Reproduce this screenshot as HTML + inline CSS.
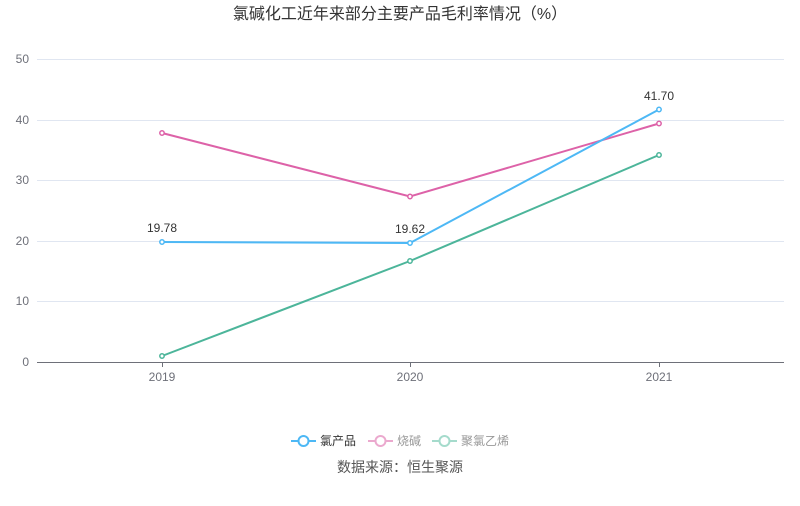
<!DOCTYPE html>
<html><head><meta charset="utf-8"><style>
body{margin:0;background:#fff;}
svg text{font-family:"Liberation Sans","Noto Sans CJK SC",sans-serif;}
</style></head><body>
<svg width="800" height="501" viewBox="0 0 800 501" xmlns="http://www.w3.org/2000/svg">
<text x="400" y="19" text-anchor="middle" font-size="16" fill="#333">氯碱化工近年来部分主要产品毛利率情况（%）</text>
<g stroke="#e0e6f1" stroke-width="1">
<line x1="37" y1="59.5" x2="784" y2="59.5"/>
<line x1="37" y1="120.5" x2="784" y2="120.5"/>
<line x1="37" y1="180.5" x2="784" y2="180.5"/>
<line x1="37" y1="241.5" x2="784" y2="241.5"/>
<line x1="37" y1="301.5" x2="784" y2="301.5"/>
</g>
<line x1="37" y1="362.5" x2="784" y2="362.5" stroke="#6e7079"/>
<g stroke="#6e7079"><line x1="162.5" y1="362" x2="162.5" y2="367"/><line x1="410.5" y1="362" x2="410.5" y2="367"/><line x1="659.5" y1="362" x2="659.5" y2="367"/></g>
<g font-size="12" fill="#6e7079" text-anchor="end">
<text x="29" y="63">50</text><text x="29" y="124">40</text><text x="29" y="184">30</text><text x="29" y="245">20</text><text x="29" y="305">10</text><text x="29" y="366">0</text>
</g>
<g font-size="12" fill="#6e7079" text-anchor="middle">
<text x="162" y="381">2019</text><text x="410" y="381">2020</text><text x="659" y="381">2021</text>
</g>
<polyline points="162,133 410,196.5 659,123.5" fill="none" stroke="#dd62a8" stroke-width="2"/>
<polyline points="162,356 410,261 659,155" fill="none" stroke="#4cb59a" stroke-width="2"/>
<polyline points="162,242 410,243 659,109.5" fill="none" stroke="#4db8f5" stroke-width="2"/>
<g fill="#fff" stroke-width="1.5">
<g stroke="#dd62a8"><circle cx="162" cy="133" r="2.2"/><circle cx="410" cy="196.5" r="2.2"/><circle cx="659" cy="123.5" r="2.2"/></g>
<g stroke="#4cb59a"><circle cx="162" cy="356" r="2.2"/><circle cx="410" cy="261" r="2.2"/><circle cx="659" cy="155" r="2.2"/></g>
<g stroke="#4db8f5"><circle cx="162" cy="242" r="2.2"/><circle cx="410" cy="243" r="2.2"/><circle cx="659" cy="109.5" r="2.2"/></g>
</g>
<g font-size="12" fill="#333" text-anchor="middle">
<text x="162" y="232">19.78</text><text x="410" y="233">19.62</text><text x="659" y="100">41.70</text>
</g>
<g font-size="12">
<line x1="291" y1="441" x2="316" y2="441" stroke="#4db8f5" stroke-width="2"/><circle cx="303.5" cy="441" r="5" fill="#fff" stroke="#4db8f5" stroke-width="2"/>
<text x="320" y="445" fill="#333">氯产品</text>
<line x1="368" y1="441" x2="393" y2="441" stroke="#eba9ce" stroke-width="2"/><circle cx="380.5" cy="441" r="5" fill="#fff" stroke="#eba9ce" stroke-width="2"/>
<text x="397" y="445" fill="#999">烧碱</text>
<line x1="432" y1="441" x2="457" y2="441" stroke="#a5dbcc" stroke-width="2"/><circle cx="444.5" cy="441" r="5" fill="#fff" stroke="#a5dbcc" stroke-width="2"/>
<text x="461" y="445" fill="#999">聚氯乙烯</text>
</g>
<text x="400" y="472" text-anchor="middle" font-size="14" fill="#555">数据来源：恒生聚源</text>
</svg>
</body></html>
